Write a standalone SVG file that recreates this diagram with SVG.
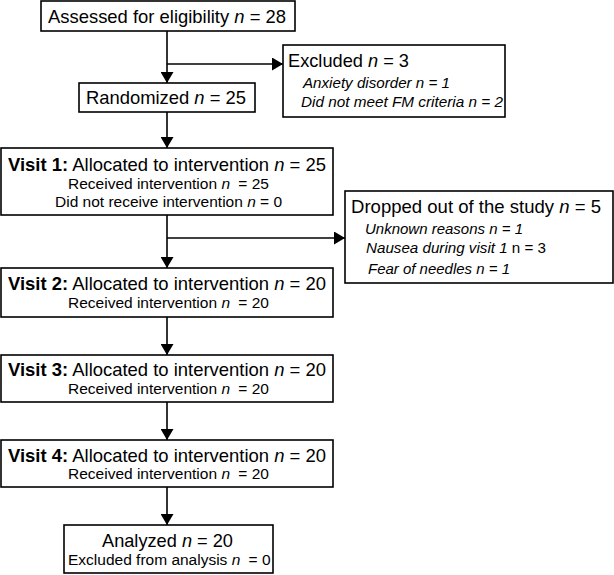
<svg xmlns="http://www.w3.org/2000/svg" width="614" height="575" viewBox="0 0 614 575">
<style>
.box{fill:#fff;stroke:#000;stroke-width:1.6}
.t{font-family:"Liberation Sans",Arial,sans-serif;font-size:18.5px;fill:#000}
.s{font-family:"Liberation Sans",Arial,sans-serif;font-size:15.5px;fill:#000}
.line{fill:none;stroke:#000;stroke-width:1.6}
</style>
<defs>
<marker id="ah" viewBox="0 0 11 13" refX="11" refY="6.5" markerWidth="11" markerHeight="13" markerUnits="userSpaceOnUse" orient="auto">
<path d="M0,0 L11,6.5 L0,13 Z" fill="#000"/>
</marker>
</defs>
<rect width="614" height="575" fill="#fff"/>
<g id="connectors">
<line class="line" x1="167" y1="31" x2="167" y2="83" marker-end="url(#ah)"/>
<line class="line" x1="167" y1="64" x2="283" y2="64" marker-end="url(#ah)"/>
<line class="line" x1="167" y1="112" x2="167" y2="148" marker-end="url(#ah)"/>
<line class="line" x1="167" y1="215" x2="167" y2="268" marker-end="url(#ah)"/>
<line class="line" x1="167" y1="238" x2="345" y2="238" marker-end="url(#ah)"/>
<line class="line" x1="167" y1="317" x2="167" y2="355" marker-end="url(#ah)"/>
<line class="line" x1="167" y1="402" x2="167" y2="440" marker-end="url(#ah)"/>
<line class="line" x1="167" y1="487" x2="167" y2="525" marker-end="url(#ah)"/>
</g>
<g id="assessed">
<rect class="box" x="41" y="1" width="254" height="30"/>
<text class="t" x="48" y="23" textLength="238" lengthAdjust="spacingAndGlyphs">Assessed for eligibility <tspan font-style="italic">n</tspan> = 28</text>
</g>
<g id="excluded">
<rect class="box" x="283" y="45" width="222" height="72"/>
<text class="t" x="288" y="67" textLength="121" lengthAdjust="spacingAndGlyphs">Excluded <tspan font-style="italic">n</tspan> = 3</text>
<text class="s" x="303" y="88" font-style="italic" textLength="147" lengthAdjust="spacingAndGlyphs">Anxiety disorder n = 1</text>
<text class="s" x="301" y="107" font-style="italic" textLength="202" lengthAdjust="spacingAndGlyphs">Did not meet FM criteria n = 2</text>
</g>
<g id="randomized">
<rect class="box" x="79" y="83" width="176" height="29"/>
<text class="t" x="86" y="104" textLength="160" lengthAdjust="spacingAndGlyphs">Randomized <tspan font-style="italic">n</tspan> = 25</text>
</g>
<g id="visit1">
<rect class="box" x="1" y="148" width="332" height="67"/>
<text class="t" x="8" y="171" textLength="318" lengthAdjust="spacingAndGlyphs"><tspan font-weight="bold">Visit 1:</tspan> Allocated to intervention <tspan font-style="italic">n</tspan> = 25</text>
<text class="s" x="68" y="189">Received intervention <tspan font-style="italic">n</tspan><tspan dx="4"> = 25</tspan></text>
<text class="s" x="55" y="207">Did not receive intervention <tspan font-style="italic">n</tspan> = 0</text>
</g>
<g id="dropped">
<rect class="box" x="345" y="191" width="268" height="92"/>
<text class="t" x="351" y="213" textLength="250" lengthAdjust="spacingAndGlyphs">Dropped out of the study <tspan font-style="italic">n</tspan> = 5</text>
<text class="s" x="365" y="234" font-style="italic" textLength="158" lengthAdjust="spacingAndGlyphs">Unknown reasons n = 1</text>
<text class="s" x="366" y="253" textLength="180" lengthAdjust="spacingAndGlyphs"><tspan font-style="italic">Nausea during visit 1</tspan> n = 3</text>
<text class="s" x="368" y="274" font-style="italic" textLength="142" lengthAdjust="spacingAndGlyphs">Fear of needles n = 1</text>
</g>
<g id="visit2">
<rect class="box" x="1" y="268" width="332" height="49"/>
<text class="t" x="8" y="290" textLength="318" lengthAdjust="spacingAndGlyphs"><tspan font-weight="bold">Visit 2:</tspan> Allocated to intervention <tspan font-style="italic">n</tspan> = 20</text>
<text class="s" x="68" y="308">Received intervention <tspan font-style="italic">n</tspan><tspan dx="4"> = 20</tspan></text>
</g>
<g id="visit3">
<rect class="box" x="1" y="355" width="332" height="47"/>
<text class="t" x="8" y="376" textLength="318" lengthAdjust="spacingAndGlyphs"><tspan font-weight="bold">Visit 3:</tspan> Allocated to intervention <tspan font-style="italic">n</tspan> = 20</text>
<text class="s" x="68" y="394">Received intervention <tspan font-style="italic">n</tspan><tspan dx="4"> = 20</tspan></text>
</g>
<g id="visit4">
<rect class="box" x="1" y="440" width="332" height="47"/>
<text class="t" x="8" y="462" textLength="318" lengthAdjust="spacingAndGlyphs"><tspan font-weight="bold">Visit 4:</tspan> Allocated to intervention <tspan font-style="italic">n</tspan> = 20</text>
<text class="s" x="68" y="479">Received intervention <tspan font-style="italic">n</tspan><tspan dx="4"> = 20</tspan></text>
</g>
<g id="analyzed">
<rect class="box" x="64" y="525" width="209" height="48"/>
<text class="t" x="102" y="547" textLength="131" lengthAdjust="spacingAndGlyphs">Analyzed <tspan font-style="italic">n</tspan> = 20</text>
<text class="s" x="68" y="565">Excluded from analysis <tspan font-style="italic">n</tspan><tspan dx="4"> = 0</tspan></text>
</g>
</svg>
